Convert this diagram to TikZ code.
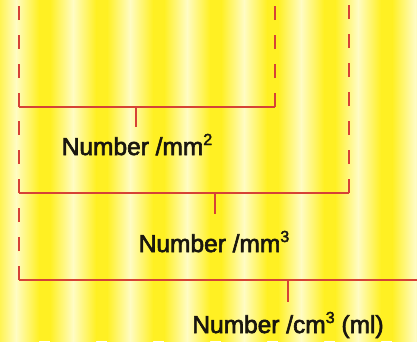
\documentclass[tikz,border=0pt]{standalone}
\usepackage{fontspec}
\setmainfont{Liberation Sans}
\newfontfamily\labelfont[FakeBold=2.5]{Liberation Sans}
\definecolor{bgyellow}{RGB}{255,240,35}
\definecolor{bgpale}{RGB}{255,252,195}
\definecolor{bracketred}{RGB}{214,66,54}
\definecolor{labelink}{RGB}{25,22,15}
% raised small digit for the unit exponents
\newcommand\powerof[1]{\raisebox{10pt}{\fontsize{16}{16}\selectfont #1}}
\begin{document}
\begin{tikzpicture}[x=1pt,y=-1pt,
  bracket/.style={draw=bracketred, line width=1.6pt},
  guide/.style={draw=bracketred, line width=1.5pt, dash pattern=on 14pt off 15pt},
  unitlabel/.style={anchor=base, inner sep=0pt, text=labelink,
    font=\labelfont\fontsize{24.5}{28}\selectfont}]
\useasboundingbox (0,0) rectangle (417,341);
\clip (0,0) rectangle (417,341);

% striped yellow background
\fill[bgyellow] (0,0) rectangle (417,341);
\foreach \c in {16,73,...,415} {
  \shade[left color=bgyellow, right color=bgpale] (\c-23,0) rectangle (\c,341);
  \shade[left color=bgpale, right color=bgyellow] (\c,0) rectangle (\c+23,341);
}

% corner and tick points
\coordinate (L0) at (19,0);
\coordinate (A1) at (19,107);
\coordinate (A2) at (275,107);
\coordinate (A2top) at (275,0);
\coordinate (M1) at (136,107);
\coordinate (M1e) at (136,127);
\coordinate (B1) at (19,193);
\coordinate (B2) at (349,193);
\coordinate (B2top) at (349,0);
\coordinate (M2) at (215,193);
\coordinate (M2e) at (215,214);
\coordinate (C1) at (19,280);
\coordinate (C2) at (417,280);
\coordinate (M3) at (288,280);
\coordinate (M3e) at (288,302);

% dashed guide lines
\draw[guide] (A1) -- (L0);
\draw[guide] (B1) -- (A1);
\draw[guide] (C1) -- (B1);
\draw[guide] (A2) -- (A2top);
\draw[guide] (B2) -- (B2top);

% brackets with their ticks
\draw[bracket] (A1) -- (A2);
\draw[bracket] (M1) -- (M1e);
\draw[bracket] (B1) -- (B2);
\draw[bracket] (M2) -- (M2e);
\draw[bracket] (C1) -- (C2);
\draw[bracket] (M3) -- (M3e);

% unit labels
\node[unitlabel] (lab1) at (137,155) {Number /mm\powerof{2}};
\node[unitlabel] (lab2) at (214,252) {Number /mm\powerof{3}};
\node[unitlabel] (lab3) at (288,333) {Number /cm\powerof{3} (ml)};
\end{tikzpicture}
\end{document}
